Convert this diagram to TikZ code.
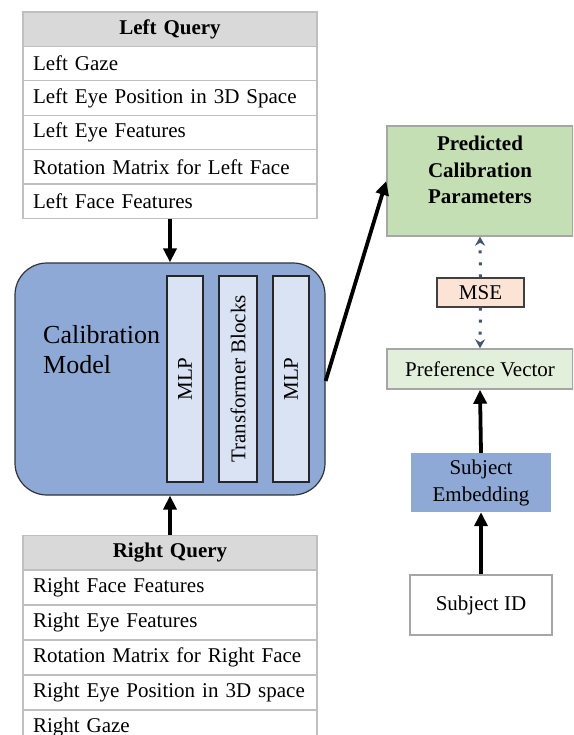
\documentclass[tikz,border=0pt]{standalone}
\usepackage{fontspec}
\setmainfont{Liberation Serif}
\usetikzlibrary{arrows.meta}
\definecolor{calblue}{HTML}{8EA9D5}
\definecolor{paleblue}{HTML}{DAE3F3}
\definecolor{hdrgray}{HTML}{D9D9D9}
\definecolor{rulegray}{HTML}{BFBFBF}
\definecolor{predgreen}{HTML}{C5DFB4}
\definecolor{prefgreen}{HTML}{E2EFDA}
\definecolor{msepeach}{HTML}{FBE3D6}
\definecolor{lossblue}{HTML}{44546A}
\definecolor{boxgray}{HTML}{A6A6A6}
\tikzset{
  qrow/.style={draw=rulegray, line width=1.3pt, fill=white, minimum width=294,
    minimum height=34.4, inner xsep=10pt, inner ysep=0pt, text width=274, align=left},
  qhead/.style={qrow, fill=hdrgray, align=center, font=\fontsize{21}{25}\selectfont\bfseries},
  block/.style={draw=black!85, line width=1.1pt, fill=paleblue, rotate=90,
    minimum height=36, minimum width=206, inner sep=0pt},
  flow/.style={line width=3.8pt, -{Triangle[length=14pt,width=13pt]}},
  loss/.style={lossblue, line width=3pt, dash pattern=on 3pt off 9pt,
    -{Stealth[length=9pt,width=10pt,inset=3pt]}},
  grayframe/.style={draw=boxgray, line width=1.5pt, inner sep=0pt},
}
\begin{document}
\begin{tikzpicture}[x=1pt, y=-1pt, font=\fontsize{21}{26}\selectfont]
\clip (0,0) rectangle (573,735);
\fill[white] (0,0) rectangle (573,735);

% left query table
\node[qhead] (lqh) at (170,29.2) {Left Query};
\node[qrow] (lq1) at (170,63.6) {Left Gaze};
\node[qrow] (lq2) at (170,98.0) {Left Eye Position in 3D Space};
\node[qrow] (lq3) at (170,132.4) {Left Eye Features};
\node[qrow] (lq4) at (170,166.8) {Rotation Matrix for Left Face};
\node[qrow] (lq5) at (170,201.2) {Left Face Features};

% calibration model
\node[draw=black!80, line width=1.2pt, fill=calblue, rounded corners=32pt,
  minimum width=310, minimum height=232] (cal) at (170,379) {};
\node[anchor=west, inner sep=0pt, align=left, font=\fontsize{26}{30}\selectfont]
  (calt) at (43,350) {Calibration\\Model};
\node[block] (mlpa) at (185,379) {MLP};
\node[block, minimum height=38] (tfb) at (238,379) {Transformer Blocks};
\node[block] (mlpb) at (291,379) {MLP};

% right query table
\node[qhead] (rqh) at (170,552.5) {Right Query};
\node[qrow] (rq1) at (170,587.5) {Right Face Features};
\node[qrow] (rq2) at (170,622.5) {Right Eye Features};
\node[qrow] (rq3) at (170,657.5) {Rotation Matrix for Right Face};
\node[qrow] (rq4) at (170,692.5) {Right Eye Position in 3D space};
\node[qrow] (rq5) at (170,727.5) {Right Gaze};

% right branch
\node[grayframe, fill=predgreen, minimum width=186, minimum height=110] (pred) at (480,181) {};
\node[align=center, inner sep=0pt, font=\fontsize{21}{26.5}\selectfont\bfseries]
  (predt) at (480,170) {Predicted\\Calibration\\Parameters};
\node[draw=black!75, line width=1.1pt, fill=msepeach, minimum width=87, minimum height=29,
  inner sep=0pt] (mse) at (480.5,292.5) {MSE};
\node[grayframe, fill=prefgreen, minimum width=186, minimum height=40] (pref) at (480,369) {Preference Vector};
\node[fill=calblue, minimum width=140, minimum height=59, inner sep=0pt, align=center,
  font=\fontsize{21}{27}\selectfont] (emb) at (481,482.5) {Subject\\Embedding};
\node[grayframe, fill=white, minimum width=142, minimum height=60] (sid) at (481,605) {Subject ID};

% connectors
\draw[flow] (lq5.south) -- (cal.north);
\draw[flow] (rqh.north) -- (cal.south);
\draw[flow] ([yshift=-2pt]cal.east) -- (pred.west);
\draw[loss] (mse.north) -- (pred.south);
\draw[loss] (mse.south) -- (pref.north);
\draw[flow] (emb.north) -- (pref.south);
\draw[flow] (sid.north) -- (emb.south);
\end{tikzpicture}
\end{document}
